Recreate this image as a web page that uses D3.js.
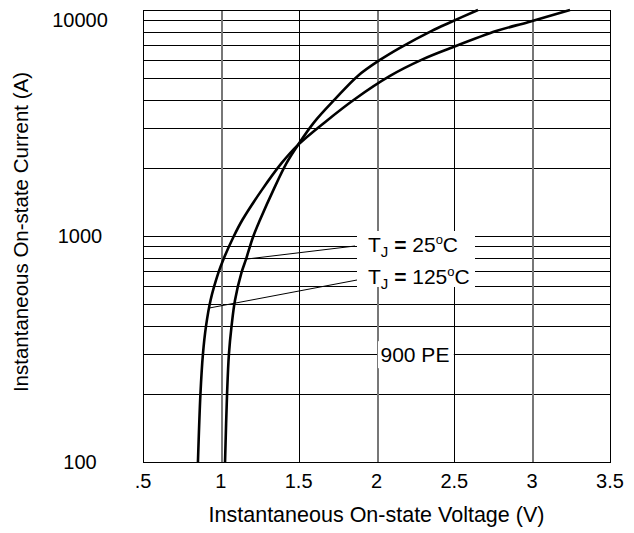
<!DOCTYPE html>
<html>
<head>
<meta charset="utf-8">
<script src="https://cdn.jsdelivr.net/npm/d3@7"></script>
<style>
  body { margin: 0; background: #fff; }
  svg { font-family: "Liberation Sans", Arial, sans-serif; }
</style>
</head>
<body>
<svg width="634" height="533"></svg>
<script>
// forward characteristic, 900 PE
const voltTicks = [0.5, 1, 1.5, 2, 2.5, 3, 3.5];
const voltLabels = ['.5', '1', '1.5', '2', '2.5', '3', '3.5'];
const currentLabels = [100, 1000, 10000];

// on-state current points (A), shared by both curves
const amps = [100, 200, 300, 400, 520, 690, 790, 990, 1180, 1600, 2100, 2530, 3190, 4040, 5110, 6060, 6770, 8090, 8830, 10000];
// Tj = 125 C
const volts125 = [0.853, 0.869, 0.885, 0.905, 0.934, 0.985, 1.017, 1.081, 1.139, 1.264, 1.39, 1.496, 1.669, 1.862, 2.087, 2.299, 2.472, 2.774, 2.973, 3.243];
// Tj = 25 C
const volts25 = [1.027, 1.04, 1.052, 1.069, 1.091, 1.133, 1.162, 1.207, 1.252, 1.338, 1.422, 1.496, 1.60, 1.735, 1.88, 2.03, 2.145, 2.355, 2.475, 2.652];

const svg = d3.select('svg');
const plotL = 143, plotR = 610, plotT = 10, plotB = 462;

const x = d3.scaleLinear().domain([0.5, 3.5]).range([plotL, plotR]);
const y = d3.scaleLog().domain([100, 10000]).range([plotB, plotT]);

const grid = svg.append('g').attr('shape-rendering', 'crispEdges');

// horizontal grid
grid.selectAll('line.h')
  .data(y.ticks())
  .enter().append('line')
  .attr('x1', plotL).attr('x2', plotR)
  .attr('y1', d => Math.round(y(d)) + 0.5)
  .attr('y2', d => Math.round(y(d)) + 0.5)
  .attr('stroke', '#000');

// vertical grid
grid.selectAll('line.v')
  .data(voltTicks)
  .enter().append('line')
  .attr('y1', plotT).attr('y2', plotB)
  .attr('x1', d => Math.round(x(d)) + 0.5)
  .attr('x2', d => Math.round(x(d)) + 0.5)
  .attr('stroke', d => Number.isInteger(d) ? '#777' : '#000')
  .attr('stroke-width', d => Number.isInteger(d) ? 2 : 1);

grid.append('rect')
  .attr('x', plotL + 0.5).attr('y', plotT + 0.5)
  .attr('width', plotR - plotL).attr('height', plotB - plotT)
  .attr('fill', 'none').attr('stroke', '#000');

// curves
const line = d3.line()
  .x(d => x(d[1]))
  .y(d => y(d[0]))
  .curve(d3.curveCatmullRom.alpha(0.5));

[volts125, volts25].forEach(v => {
  svg.append('path')
    .datum(d3.zip(amps, v))
    .attr('d', line)
    .attr('fill', 'none').attr('stroke', '#000').attr('stroke-width', 2.6);
});

// axes labels
const xAxis = svg.append('g');
xAxis.selectAll('text')
  .data(voltTicks)
  .enter().append('text')
  .attr('x', d => x(d))
  .attr('y', plotB + 26)
  .attr('text-anchor', 'middle')
  .attr('font-size', 20)
  .text((d, i) => voltLabels[i]);

const yAxis = svg.append('g');
yAxis.selectAll('text')
  .data(currentLabels)
  .enter().append('text')
  .attr('x', 80)
  .attr('y', d => Math.max(y(d), plotT + 10) + 7)
  .attr('text-anchor', 'middle')
  .attr('font-size', 20)
  .text(d => d);

svg.append('text')
  .attr('x', (plotL + plotR) / 2)
  .attr('y', plotB + 60)
  .attr('text-anchor', 'middle')
  .attr('font-size', 21.5)
  .text('Instantaneous On-state Voltage (V)');

svg.append('text')
  .attr('transform', `translate(28, ${(plotT + plotB) / 2 - 4}) rotate(-90)`)
  .attr('text-anchor', 'middle')
  .attr('font-size', 20.5)
  .text('Instantaneous On-state Current (A)');

// annotations
const notes = [
  { temp: '25', amp: 790, volt: 1.162, tx: 368, ty: 252, lx: 355, ly: 246 },
  { temp: '125', amp: 480, volt: 0.925, tx: 368, ty: 284, lx: 357, ly: 280 }
];

const noteBox = svg.append('rect').attr('fill', '#fff');

notes.forEach(n => {
  svg.append('line')
    .attr('x1', n.lx).attr('y1', n.ly)
    .attr('x2', x(n.volt)).attr('y2', y(n.amp))
    .attr('stroke', '#000').attr('stroke-width', 1);
});

const noteText = svg.append('g');
notes.forEach(n => {
  const t = noteText.append('text')
    .attr('x', n.tx).attr('y', n.ty)
    .attr('font-size', 21);
  t.append('tspan').text('T');
  t.append('tspan').attr('font-size', 15).attr('dy', 5).text('J');
  t.append('tspan').attr('dy', -5).attr('font-weight', 'bold').text(' = ');
  t.append('tspan').text(n.temp);
  t.append('tspan').attr('font-size', 13).attr('dy', -8).text('o');
  t.append('tspan').attr('dy', 8).text('C');
});
const nb = noteText.node().getBBox();
noteBox
  .attr('x', nb.x - 11).attr('y', nb.y - 1)
  .attr('width', 118).attr('height', nb.height - 4);

// part number
const pe = svg.append('g');
const peBox = pe.append('rect').attr('fill', '#fff');
const peText = pe.append('text')
  .attr('x', x(2) + 4).attr('y', y(300) + 8)
  .attr('font-size', 21)
  .text('900 PE');
const pb = peText.node().getBBox();
peBox.attr('x', x(2) + 1.5).attr('y', pb.y - 2)
  .attr('width', x(2.5) - x(2) - 2).attr('height', pb.height + 4);
</script>
</body>
</html>
